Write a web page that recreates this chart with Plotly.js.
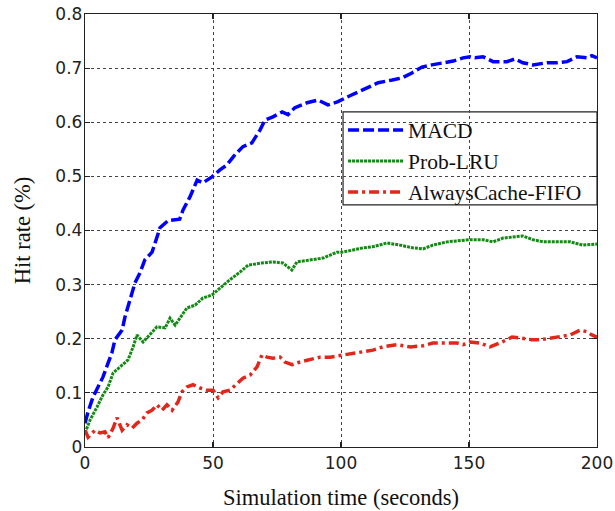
<!DOCTYPE html>
<html>
<head>
<meta charset="utf-8">
<script src="https://cdn.plot.ly/plotly-3.0.1.min.js"></script>
<style>
  html, body { margin: 0; padding: 0; background: #fff; }
  #chart { width: 615px; height: 511px; }
</style>
</head>
<body>
<div id="chart"></div>
<script>
// Hit rate over simulation time for three caching policies
const macdT = [0, 1.2, 3.1, 5, 7, 9, 10.5, 11.7, 14.5, 15.6, 17.6, 19.5, 21.5, 23.4, 26.2, 28.5, 29.3, 32.4, 37, 38.3, 41, 43.8, 46, 49.6, 52.7, 55.4, 58.6, 61.7, 65.2, 68.4, 70.3, 73.4, 77, 79.3, 82, 86.7, 91, 94.9, 98.8, 103.5, 108.6, 110.5, 114.5, 120, 123.8, 127.7, 131.6, 135.5, 139.8, 143.8, 147.7, 150.4, 152.3, 155.5, 159.4, 164.8, 168, 171, 175, 180.5, 184.4, 188.3, 192.2, 196, 198, 200];
const macdY = [0.044, 0.065, 0.092, 0.111, 0.129, 0.155, 0.174, 0.198, 0.216, 0.240, 0.272, 0.303, 0.322, 0.346, 0.360, 0.392, 0.405, 0.418, 0.421, 0.438, 0.462, 0.493, 0.488, 0.499, 0.512, 0.521, 0.540, 0.555, 0.562, 0.586, 0.604, 0.610, 0.619, 0.614, 0.627, 0.636, 0.641, 0.632, 0.638, 0.649, 0.660, 0.664, 0.673, 0.678, 0.682, 0.691, 0.702, 0.706, 0.710, 0.713, 0.719, 0.721, 0.719, 0.721, 0.712, 0.712, 0.717, 0.710, 0.706, 0.710, 0.710, 0.712, 0.721, 0.719, 0.723, 0.719];

const lruT = [0, 2, 4.7, 7, 9, 11, 13.7, 16.8, 18.8, 20.3, 22.7, 25.4, 28.1, 31.3, 33.2, 35.2, 37.9, 39.8, 43, 46, 49.6, 52.7, 56.6, 60.5, 63.7, 69.1, 73.4, 77.3, 80.8, 82.8, 87.9, 93, 98.4, 100.4, 104.7, 108.6, 112.5, 118, 123, 128, 132, 135.9, 141.4, 146.5, 150.4, 155.5, 159.4, 163.3, 167.2, 171, 175, 179, 184.4, 189.5, 194.5, 200];
const lruY = [0.026, 0.050, 0.074, 0.096, 0.111, 0.137, 0.148, 0.161, 0.185, 0.207, 0.194, 0.207, 0.222, 0.220, 0.238, 0.225, 0.244, 0.257, 0.262, 0.275, 0.281, 0.294, 0.309, 0.323, 0.336, 0.340, 0.342, 0.340, 0.327, 0.342, 0.346, 0.349, 0.360, 0.360, 0.364, 0.368, 0.370, 0.377, 0.373, 0.368, 0.366, 0.373, 0.379, 0.381, 0.383, 0.383, 0.379, 0.386, 0.388, 0.390, 0.383, 0.379, 0.379, 0.379, 0.373, 0.375];

const fifoT = [0, 1.2, 3.9, 5.9, 7.8, 9, 11, 12.5, 14.5, 16.4, 18.4, 20.3, 22.3, 24.2, 26.2, 28.1, 30.1, 32, 34, 36.3, 37.9, 39.8, 42.2, 44.9, 47.6, 50, 52, 53.9, 56.6, 59.4, 61.7, 64.5, 67.2, 69.1, 71.1, 73.4, 76.2, 78.1, 80.9, 84, 87.9, 91.8, 95.7, 100.8, 104.7, 108.6, 112.5, 116.4, 121.9, 127, 132, 135.9, 139.8, 145.3, 147.7, 150.4, 154.3, 158.2, 162.9, 166.8, 170.7, 174.6, 177.7, 181.6, 185.5, 189.5, 193.4, 196, 198, 200];
const fifoY = [0.031, 0.018, 0.031, 0.026, 0.028, 0.017, 0.035, 0.054, 0.031, 0.041, 0.035, 0.044, 0.050, 0.063, 0.068, 0.078, 0.068, 0.078, 0.068, 0.083, 0.102, 0.111, 0.115, 0.109, 0.105, 0.105, 0.091, 0.102, 0.105, 0.118, 0.127, 0.133, 0.148, 0.170, 0.166, 0.164, 0.166, 0.157, 0.152, 0.157, 0.161, 0.166, 0.166, 0.170, 0.174, 0.176, 0.179, 0.185, 0.189, 0.185, 0.187, 0.192, 0.192, 0.192, 0.189, 0.194, 0.192, 0.185, 0.194, 0.203, 0.201, 0.198, 0.198, 0.201, 0.203, 0.207, 0.216, 0.213, 0.207, 0.203];

const xTicks = [0, 50, 100, 150, 200];
const yTicks = [0, 0.1, 0.2, 0.3, 0.4, 0.5, 0.6, 0.7, 0.8];
const yTickText = ['0', '0.1', '0.2', '0.3', '0.4', '0.5', '0.6', '0.7', '0.8'];

const serif = 'Liberation Serif, Times New Roman, serif';
const sans = 'DejaVu Sans, Verdana, sans-serif';

const traces = [
  { x: macdT, y: macdY, name: 'MACD', mode: 'lines',
    line: { color: '#0000ff', width: 3.5, dash: '11px,4px' } },
  { x: lruT, y: lruY, name: 'Prob-LRU', mode: 'lines',
    line: { color: '#138a13', width: 3, dash: '3px,1px' } },
  { x: fifoT, y: fifoY, name: 'AlwaysCache-FIFO', mode: 'lines',
    line: { color: '#e3261a', width: 3.5, dash: '10px,4px,3px,4px' } }
];

const axisCommon = {
  showline: true, linecolor: '#222', linewidth: 1.2, mirror: 'ticks',
  ticks: 'inside', ticklen: 5, tickcolor: '#222', tickwidth: 1.2,
  showgrid: true, gridcolor: '#444', griddash: 'dot', gridwidth: 1,
  zeroline: false,
  tickfont: { family: sans, size: 17, color: '#222' }
};

const layout = {
  width: 615, height: 511,
  margin: { l: 85, r: 18, t: 14, b: 64 },
  paper_bgcolor: '#fff', plot_bgcolor: '#fff',
  showlegend: true,
  xaxis: Object.assign({}, axisCommon, {
    range: [0, 200], tickvals: xTicks,
    title: { text: 'Simulation time (seconds)', font: { family: serif, size: 22.5, color: '#111' }, standoff: 17 }
  }),
  yaxis: Object.assign({}, axisCommon, {
    range: [0, 0.8], tickvals: yTicks, ticktext: yTickText, ticklabelstandoff: -2,
    title: { text: 'Hit rate (%)', font: { family: serif, size: 22.5, color: '#111' }, standoff: 18 }
  }),
  // legend frame: white box between the grid and the curves
  shapes: [{
    type: 'rect', xref: 'paper', yref: 'paper', layer: 'between',
    x0: 0.504, x1: 1.0, y0: 0.559, y1: 0.774,
    fillcolor: '#fff', line: { color: '#222', width: 1.2 }
  }],
  legend: {
    x: 0.504, y: 0.7794, xanchor: 'left', yanchor: 'top',
    bgcolor: 'rgba(0,0,0,0)', borderwidth: 0,
    font: { family: serif, size: 21.5, color: '#111' },
    itemwidth: 55, tracegroupgap: 0
  }
};

Plotly.newPlot('chart', traces, layout, { displayModeBar: false, staticPlot: true });
</script>
</body>
</html>
